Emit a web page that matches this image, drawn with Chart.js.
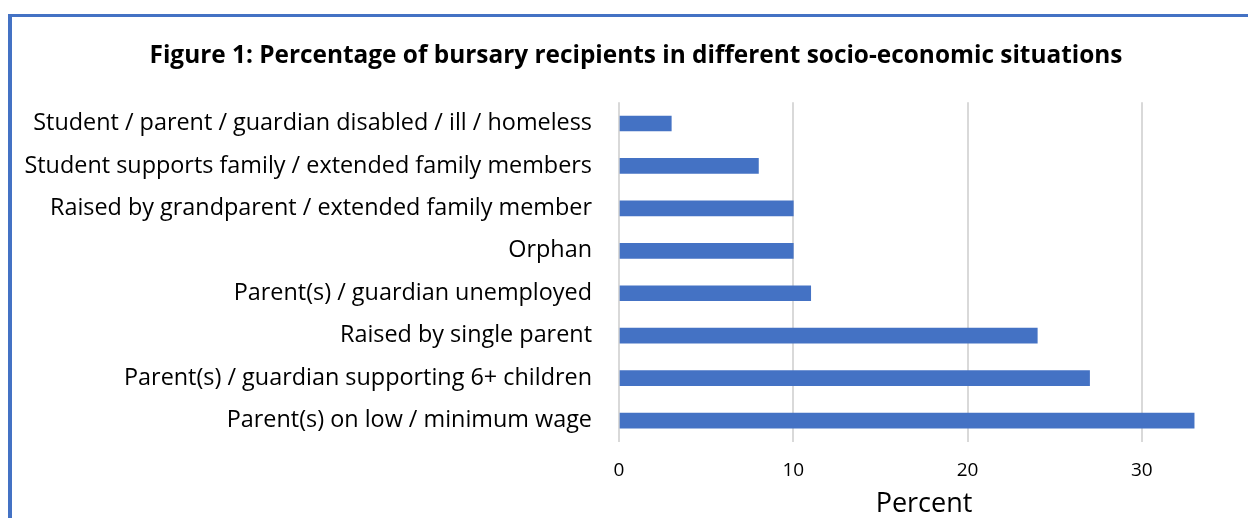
<!DOCTYPE html>
<html>
<head>
<meta charset="utf-8">
<script src="https://cdn.jsdelivr.net/npm/chart.js@4"></script>
<style>
  html, body { margin: 0; padding: 0; background: #fff; }
  #wrap { position: relative; width: 1248px; height: 518px; overflow: hidden; }
  #frame { position: absolute; left: 8px; top: 14px; width: 1260px; height: 520px;
           border-left: 4px solid #4472C4; border-top: 3px solid #4472C4; }
  #chart { position: absolute; left: 0; top: 0; }
</style>
</head>
<body>
<div id="wrap">
  <div id="frame"></div>
  <canvas id="chart" width="1248" height="518"></canvas>
</div>
<script>
// Categories (top to bottom) and their percentages
const situations = [
    "Student / parent / guardian disabled / ill / homeless",
    "Student supports family / extended family members",
    "Raised by grandparent / extended family member",
    "Orphan",
    "Parent(s) / guardian unemployed",
    "Raised by single parent",
    "Parent(s) / guardian supporting 6+ children",
    "Parent(s) on low / minimum wage"
];
const percentages = [3, 8, 10, 10, 11, 24, 27, 33];
const xTicks = [0, 10, 20, 30];

const FONT = "'Open Sans', sans-serif";

// The title in the original sits a little right of the full-width centre
const titleShift = {
    id: 'titleShift',
    afterLayout(chart) {
        chart.titleBlock.left += 23;
    }
};

const ctx = document.getElementById('chart').getContext('2d');
new Chart(ctx, {
    type: 'bar',
    data: {
        labels: situations,
        datasets: [{
            label: 'Percent',
            data: percentages,
            backgroundColor: '#4472C4',
            barThickness: 15
        }]
    },
    options: {
        indexAxis: 'y',
        responsive: false,
        animation: false,
        layout: { padding: { left: 20, right: 19, top: 0, bottom: 0 } },
        scales: {
            x: {
                min: 0,
                max: 35,
                afterBuildTicks: axis => {
                    axis.ticks = xTicks.map(v => ({ value: v }));
                },
                grid: { color: '#d9d9d9', lineWidth: 2, drawTicks: false },
                border: { display: false },
                ticks: { color: '#000', padding: 17, font: { family: FONT, size: 19 } },
                title: {
                    display: true,
                    text: 'Percent',
                    color: '#000',
                    padding: { top: -10, bottom: -3 },
                    font: { family: FONT, size: 27 }
                }
            },
            y: {
                afterFit: axis => { axis.width = 599; },
                grid: { display: false },
                border: { display: false },
                ticks: { color: '#000', padding: 19, font: { family: FONT, size: 23.4 } }
            }
        },
        plugins: {
            legend: { display: false },
            tooltip: { enabled: false },
            title: {
                display: true,
                text: 'Figure 1: Percentage of bursary recipients in different socio-economic situations',
                color: '#000',
                padding: { top: 41, bottom: 32 },
                font: { family: FONT, size: 24.4, weight: 'bold' }
            }
        }
    },
    plugins: [titleShift]
});
</script>
</body>
</html>
